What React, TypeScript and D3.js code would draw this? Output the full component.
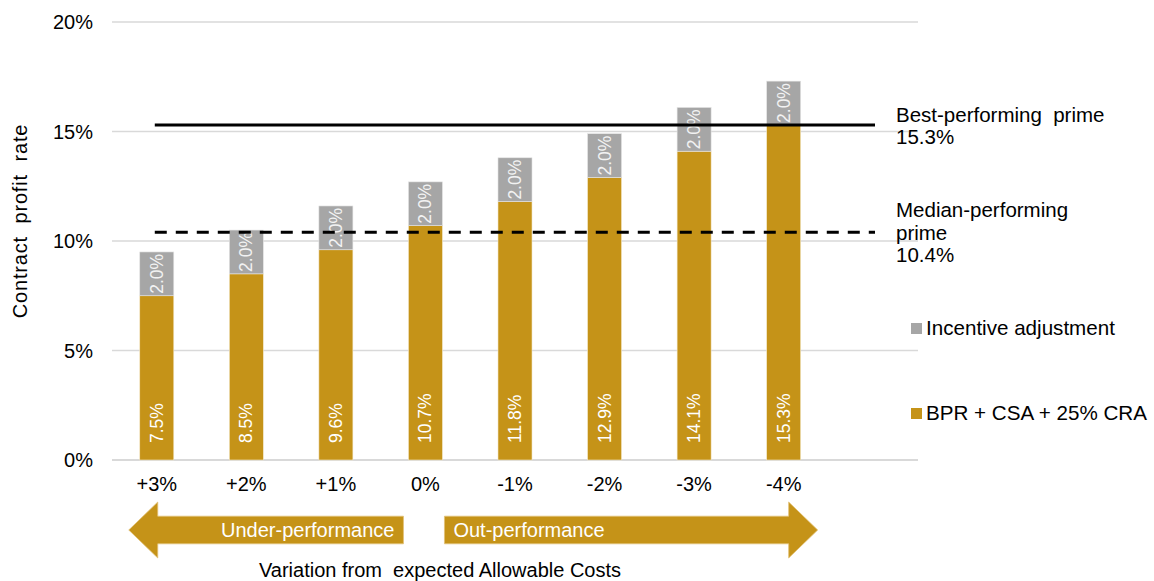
import React from "react";
import * as d3 from "d3";

const categories = ["+3%", "+2%", "+1%", "0%", "-1%", "-2%", "-3%", "-4%"];
const baseValues = [7.5, 8.5, 9.6, 10.7, 11.8, 12.9, 14.1, 15.3];
const incentiveValues = [2.0, 2.0, 2.0, 2.0, 2.0, 2.0, 2.0, 2.0];
const yTicks = [0, 5, 10, 15, 20];
const bestPrime = 15.3;
const medianPrime = 10.4;
const seriesNames = ["Incentive adjustment", "BPR + CSA + 25% CRA"];

const W = 1154;
const H = 581;
const GOLD = "#C59318";
const GREY = "#A6A6A6";
const FONT = "'Liberation Sans', Arial, sans-serif";

export default function App() {
  const x = d3
    .scaleBand<string>()
    .domain([...categories, "__spacer__"])
    .range([112, 918])
    .paddingInner(0.62)
    .paddingOuter(0.31);
  const y = d3.scaleLinear().domain([0, 20]).range([460, 22]);
  const bw = x.bandwidth();
  const cx = (c: string) => (x(c) as number) + bw / 2;

  const lineX0 = cx(categories[0]) - 2;
  const lineX1 = 875;

  const first = categories[0];
  const zero = categories[3];
  const last = categories[categories.length - 1];
  const leftTip = (x(first) as number) - 11;
  const headLen = 29;
  const shaftLEnd = cx(zero) - 22;
  const shaftRStart = cx(zero) + 19;
  const rightTip = (x(last) as number) + bw + 17;
  const aMid = 530;
  const shaftHalf = 13.8;
  const headHalf = 28;
  const leftArrow = [
    [leftTip, aMid],
    [leftTip + headLen, aMid - headHalf],
    [leftTip + headLen, aMid - shaftHalf],
    [shaftLEnd, aMid - shaftHalf],
    [shaftLEnd, aMid + shaftHalf],
    [leftTip + headLen, aMid + shaftHalf],
    [leftTip + headLen, aMid + headHalf],
  ];
  const rightArrow = [
    [shaftRStart, aMid - shaftHalf],
    [rightTip - headLen, aMid - shaftHalf],
    [rightTip - headLen, aMid - headHalf],
    [rightTip, aMid],
    [rightTip - headLen, aMid + headHalf],
    [rightTip - headLen, aMid + shaftHalf],
    [shaftRStart, aMid + shaftHalf],
  ];
  const pts = (p: number[][]) => p.map((q) => q.join(",")).join(" ");

  return (
    <svg
      width={W}
      height={H}
      style={{ position: "absolute", left: 0, top: 0, background: "#fff" }}
      fontFamily={FONT}
    >
      {/* gridlines */}
      {yTicks.map((t) => (
        <line
          key={"g" + t}
          x1={112}
          x2={918}
          y1={y(t)}
          y2={y(t)}
          stroke="#D9D9D9"
          strokeWidth={t === 0 ? 2 : 1.5}
        />
      ))}
      {/* y tick labels */}
      {yTicks.map((t) => (
        <text
          key={"yt" + t}
          x={93}
          y={y(t)}
          textAnchor="end"
          dominantBaseline="central"
          fontSize={20}
          fill="#000"
        >
          {t + "%"}
        </text>
      ))}
      {/* y axis label */}
      <text
        transform={`translate(27,221) rotate(-90)`}
        textAnchor="middle"
        fontSize={20}
        letterSpacing={0.8}
        xmlSpace="preserve"
        style={{ whiteSpace: "pre" }}
      >
        {"Contract  profit  rate"}
      </text>

      {/* bars */}
      {categories.map((c, i) => {
        const b = baseValues[i];
        const inc = incentiveValues[i];
        return (
          <g key={"b" + c}>
            <rect
              x={x(c)}
              y={y(b)}
              width={bw}
              height={y(0) - y(b)}
              fill={GOLD}
              stroke="#F5EBD0"
              strokeWidth={0.6}
            />
            <rect
              x={x(c)}
              y={y(b + inc)}
              width={bw}
              height={y(b) - y(b + inc)}
              fill={GREY}
              stroke="#E6E6E6"
              strokeWidth={0.6}
            />
            <text
              transform={`translate(${cx(c)},${y(0) - 17}) rotate(-90)`}
              textAnchor="start"
              dominantBaseline="central"
              fontSize={17.5}
              fill="#FFFFFF"
            >
              {b.toFixed(1) + "%"}
            </text>
            <text
              transform={`translate(${cx(c)},${(y(b) + y(b + inc)) / 2}) rotate(-90)`}
              textAnchor="middle"
              dominantBaseline="central"
              fontSize={17.5}
              fill="#F2F2F2"
            >
              {inc.toFixed(1) + "%"}
            </text>
            <text
              x={cx(c)}
              y={491}
              textAnchor="middle"
              fontSize={20}
              fill="#000"
            >
              {c}
            </text>
          </g>
        );
      })}

      {/* reference lines */}
      <line
        x1={lineX0}
        x2={lineX1}
        y1={y(bestPrime)}
        y2={y(bestPrime)}
        stroke="#000"
        strokeWidth={3}
      />
      <line
        x1={lineX0}
        x2={lineX1}
        y1={y(medianPrime)}
        y2={y(medianPrime)}
        stroke="#000"
        strokeWidth={3}
        strokeDasharray="12,9"
      />
      <g fontSize={20.5} fill="#000" style={{ whiteSpace: "pre" }}>
        <text x={896} y={122} xmlSpace="preserve">{"Best-performing  prime"}</text>
        <text x={896} y={144}>{bestPrime.toFixed(1) + "%"}</text>
        <text x={896} y={217}>{"Median-performing"}</text>
        <text x={896} y={240}>{"prime"}</text>
        <text x={896} y={262}>{medianPrime.toFixed(1) + "%"}</text>
      </g>

      {/* legend */}
      <rect x={911} y={323} width={11} height={11} fill={GREY} />
      <text x={926} y={335} fontSize={20.6} fill="#000">
        {seriesNames[0]}
      </text>
      <rect x={911} y={408} width={11} height={11} fill={GOLD} />
      <text x={926} y={420} fontSize={20.6} fill="#000">
        {seriesNames[1]}
      </text>

      {/* arrows */}
      <polygon points={pts(leftArrow)} fill={GOLD} stroke="#E2C277" strokeWidth={0.8} />
      <polygon points={pts(rightArrow)} fill={GOLD} stroke="#E2C277" strokeWidth={0.8} />
      <text x={shaftLEnd - 9} y={537} textAnchor="end" fontSize={20} fill="#fff">
        Under-performance
      </text>
      <text x={shaftRStart + 9} y={537} textAnchor="start" fontSize={20} fill="#fff">
        Out-performance
      </text>

      {/* x axis title */}
      <text
        x={440}
        y={577}
        textAnchor="middle"
        fontSize={20}
        fill="#000"
        xmlSpace="preserve"
        style={{ whiteSpace: "pre" }}
      >
        {"Variation from  expected Allowable Costs"}
      </text>
    </svg>
  );
}
